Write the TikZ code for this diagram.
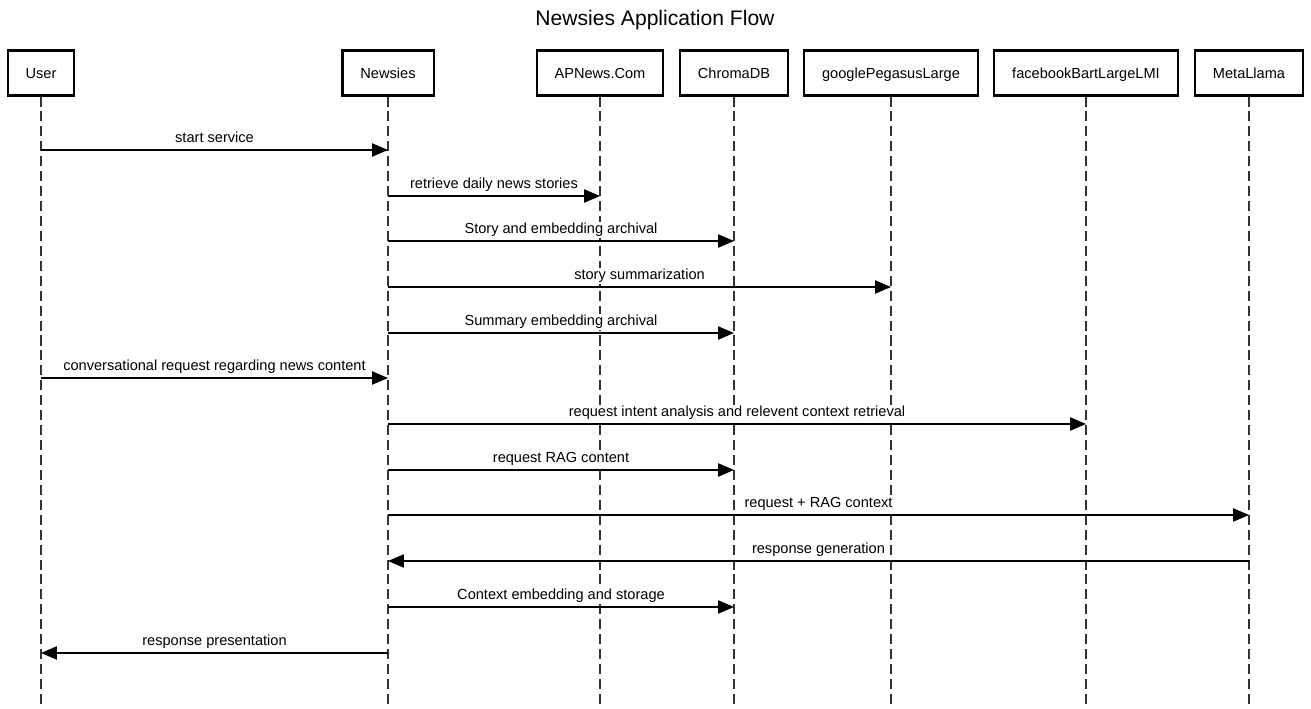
\documentclass[tikz,border=0pt]{standalone}
\usepackage{fontspec}
\setmainfont{Liberation Sans}
\usetikzlibrary{arrows.meta}

\begin{document}
\begin{tikzpicture}[x=0.02cm,y=-0.02cm,
		font=\fontsize{8.3}{10}\selectfont,
		actor/.style={draw,line width=1.2pt,minimum height=0.9cm,inner xsep=0.36cm,text height=5.9pt,text depth=0pt},
		life/.style={line width=0.6pt,black!80,dash pattern=on 5.7pt off 2.8pt},
		msg/.style={line width=0.7pt,-{Triangle[length=9pt,width=7.5pt]}},
		lbl/.style={anchor=base,yshift=4pt,fill=white,inner xsep=0.5pt,inner ysep=0.6pt}]

	    \useasboundingbox (0,0) rectangle (1311,709);

	    \node[anchor=base,font=\fontsize{12}{14}\selectfont] (title) at (655,26) {Newsies Application Flow};

	    \node[actor] (user) at (41,73) {User};
	    \node[actor] (newsies) at (388,73) {Newsies};
	    \node[actor] (apnews) at (600,73) {APNews.Com};
	    \node[actor] (chroma) at (734,73) {ChromaDB};
	    \node[actor] (pegasus) at (891,73) {googlePegasusLarge};
	    \node[actor] (bart) at (1086,73) {facebookBartLargeLMI};
	    \node[actor] (llama) at (1249,73) {MetaLlama};

	    \foreach \p in {user,newsies,apnews,chroma,pegasus,bart,llama}
	        \draw[life] (\p.south) -- (\p |- 0,709);

	    \draw[msg] (user |- 0,150) -- node[lbl] {start service} (newsies |- 0,150);
	    \draw[msg] (newsies |- 0,196) -- node[lbl] {retrieve daily news stories} (apnews |- 0,196);
	    \draw[msg] (newsies |- 0,241) -- node[lbl] {Story and embedding archival} (chroma |- 0,241);
	    \draw[msg] (newsies |- 0,287) -- node[lbl] {story summarization} (pegasus |- 0,287);
	    \draw[msg] (newsies |- 0,333) -- node[lbl] {Summary embedding archival} (chroma |- 0,333);
	    \draw[msg] (user |- 0,378) -- node[lbl] {conversational request regarding news content} (newsies |- 0,378);
	    \draw[msg] (newsies |- 0,424) -- node[lbl] {request intent analysis and relevent context retrieval} (bart |- 0,424);
	    \draw[msg] (newsies |- 0,470) -- node[lbl] {request RAG content} (chroma |- 0,470);
	    \draw[msg] (newsies |- 0,515) -- node[lbl] {request + RAG context} (llama |- 0,515);
	    \draw[msg] (llama |- 0,561) -- node[lbl] {response generation} (newsies |- 0,561);
	    \draw[msg] (newsies |- 0,607) -- node[lbl] {Context embedding and storage} (chroma |- 0,607);
	    \draw[msg] (newsies |- 0,653) -- node[lbl] {response presentation} (user |- 0,653);

\end{tikzpicture}
\end{document}
